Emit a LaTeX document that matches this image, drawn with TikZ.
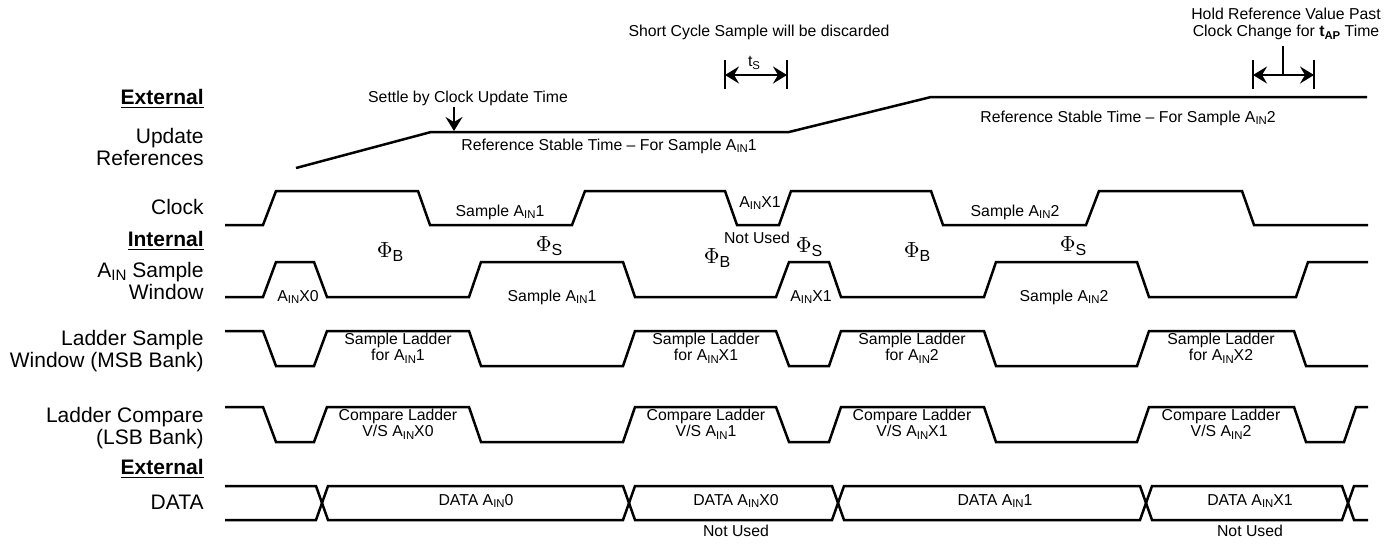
\documentclass[tikz,border=0pt]{standalone}
\usepackage{fontspec}
\setmainfont{Liberation Sans}
\usepackage{graphicx}
\usetikzlibrary{arrows.meta}
\newcommand{\lowidx}[1]{\raisebox{-0.32ex}{\scalebox{0.72}{#1}}}
\newcommand{\ain}{A\lowidx{IN}}
\newcommand{\phase}[1]{{\fontsize{11}{12}\selectfont$\Phi$}\raisebox{-2.4pt}{\fontsize{8}{9}\selectfont #1}}

\begin{document}
\begin{tikzpicture}[x=0.5pt,y=-0.5pt,>={Stealth[length=7pt,width=8.5pt,inset=2.5pt]},
  row label/.style={anchor=east,align=right,inner sep=0pt,font=\fontsize{10.5}{11.2}\selectfont},
  group label/.style={anchor=base east,inner sep=0pt,font=\fontsize{10.5}{11.2}\selectfont\bfseries},
  tag/.style={inner sep=0pt,align=center,font=\fontsize{7.9}{8.4}\selectfont},
  phase tag/.style={inner sep=0pt},
  wave/.style={line width=1.25pt},
  dim/.style={line width=1.1pt}]
  \useasboundingbox (0,0) rectangle (1395,543);

  \node[group label] (ext1) at (204,104) {\underline{External}};
  \node[row label] (upd) at (204,147) {Update\\References};
  \node[row label] (clk) at (204,207) {Clock};
  \node[group label] (int) at (204,246) {\underline{Internal}};
  \node[row label] (win) at (204,281) {\ain{} Sample\\Window};
  \node[row label] (msb) at (204,351) {Ladder Sample\\Window (MSB Bank)};
  \node[row label] (lsb) at (204,428) {Ladder Compare\\(LSB Bank)};
  \node[group label] (ext2) at (204,474) {\underline{External}};
  \node[row label] (data) at (204,502) {DATA};

  \node[tag] (short) at (759,32) {Short Cycle Sample will be discarded};
  \node[tag] (hold) at (1286,24) {Hold Reference Value Past\\Clock Change for \textbf{t\lowidx{AP}} Time};
  \node[tag] (ts) at (754,63) {t\lowidx{S}};
  \node[tag] (settle) at (468,98) {Settle by Clock Update Time};
  \node[tag] (stable1) at (609,146) {Reference Stable Time \textendash{} For Sample \ain1};
  \node[tag] (stable2) at (1128,118) {Reference Stable Time \textendash{} For Sample \ain2};

  \node[tag] (clks1) at (500,212) {Sample \ain1};
  \node[tag] (clkx1) at (760,203) {\ain X1};
  \node[tag] (nu1) at (757,238) {Not Used};
  \node[tag] (clks2) at (1015,212) {Sample \ain2};

  \node[phase tag] (pb1) at (390,252) {\phase{B}};
  \node[phase tag] (ps1) at (549,246) {\phase{S}};
  \node[phase tag] (pb2) at (717,258) {\phase{B}};
  \node[phase tag] (ps2) at (809,247) {\phase{S}};
  \node[phase tag] (pb3) at (917,252) {\phase{B}};
  \node[phase tag] (ps3) at (1073,246) {\phase{S}};

  \node[tag] (winx0) at (298,297) {\ain X0};
  \node[tag] (wins1) at (552,297) {Sample \ain1};
  \node[tag] (winx1) at (811,297) {\ain X1};
  \node[tag] (wins2) at (1064,297) {Sample \ain2};

  \node[tag] (lad1) at (398,348) {Sample Ladder\\for \ain1};
  \node[tag] (lad2) at (706,348) {Sample Ladder\\for \ain X1};
  \node[tag] (lad3) at (912,348) {Sample Ladder\\for \ain2};
  \node[tag] (lad4) at (1221,348) {Sample Ladder\\for \ain X2};

  \node[tag] (cmp1) at (398,424) {Compare Ladder\\V/S \ain X0};
  \node[tag] (cmp2) at (706,424) {Compare Ladder\\V/S \ain1};
  \node[tag] (cmp3) at (912,424) {Compare Ladder\\V/S \ain X1};
  \node[tag] (cmp4) at (1221,424) {Compare Ladder\\V/S \ain2};

  \node[tag] (dat0) at (476,501) {DATA \ain0};
  \node[tag] (datx0) at (736,501) {DATA \ain X0};
  \node[tag] (dat1) at (995,501) {DATA \ain1};
  \node[tag] (datx1) at (1250,501) {DATA \ain X1};
  \node[tag] (nu2) at (736,531) {Not Used};
  \node[tag] (nu3) at (1250,531) {Not Used};

  \coordinate (settleTop) at (454,107);
  \coordinate (settleTip) at (454,131);
  \coordinate (tsL) at (725,75);
  \coordinate (tsR) at (787,75);
  \coordinate (tapL) at (1253,75);
  \coordinate (tapR) at (1314,75);
  \coordinate (tapM) at (1283,75);

  \draw[wave] (296,168) -- (431,132) -- (789,132) -- (931,97) -- (1367,97);
  \draw[wave] (225,225) -- (263,225) -- (276,191) -- (418,191) -- (430,225) -- (572,225) -- (585,191) -- (725,191) -- (737,225) -- (779,225) -- (791,191) -- (931,191) -- (943,225) -- (1086,225) -- (1099,191) -- (1242,191) -- (1254,225) -- (1368,225);
  \draw[wave] (225,297) -- (263,297) -- (276,262) -- (314,262) -- (327,297) -- (469,297) -- (481,262) -- (623,262) -- (635,297) -- (776,297) -- (789,262) -- (829,262) -- (841,297) -- (984,297) -- (996,262) -- (1137,262) -- (1149,297) -- (1296,297) -- (1308,262) -- (1368,262);
  \draw[wave] (225,331) -- (263,331) -- (276,366) -- (314,366) -- (327,331) -- (469,331) -- (481,366) -- (623,366) -- (635,331) -- (776,331) -- (789,366) -- (829,366) -- (841,331) -- (984,331) -- (996,366) -- (1137,366) -- (1149,331) -- (1294,331) -- (1306,366) -- (1368,366);
  \draw[wave] (225,407) -- (263,407) -- (276,442) -- (314,442) -- (327,407) -- (469,407) -- (481,442) -- (623,442) -- (635,407) -- (776,407) -- (789,442) -- (829,442) -- (841,407) -- (984,407) -- (996,442) -- (1137,442) -- (1149,407) -- (1294,407) -- (1306,442) -- (1344,442) -- (1356,407) -- (1368,407);
  \draw[wave] (225,486) -- (316,486) -- (328,520) -- (623,520) -- (635,486) -- (832,486) -- (844,520) -- (1140,520) -- (1152,486) -- (1342,486) -- (1354,520) -- (1368,520);
  \draw[wave] (225,520) -- (316,520) -- (328,486) -- (623,486) -- (635,520) -- (832,520) -- (844,486) -- (1140,486) -- (1152,520) -- (1342,520) -- (1354,486) -- (1368,486);

  \draw[dim,->] (settleTop) -- (settleTip);
  \draw[dim] (tsL) ++(0,-15) -- ++(0,29);
  \draw[dim] (tsR) ++(0,-15) -- ++(0,29);
  \draw[dim,<->] (tsL) -- (tsR);
  \draw[dim] (tapL) ++(0,-15) -- ++(0,29);
  \draw[dim] (tapR) ++(0,-15) -- ++(0,29);
  \draw[dim,<->] (tapL) -- (tapR);
  \draw[dim] (hold.south -| tapM) ++(0,6) -- (tapM);
\end{tikzpicture}
\end{document}
